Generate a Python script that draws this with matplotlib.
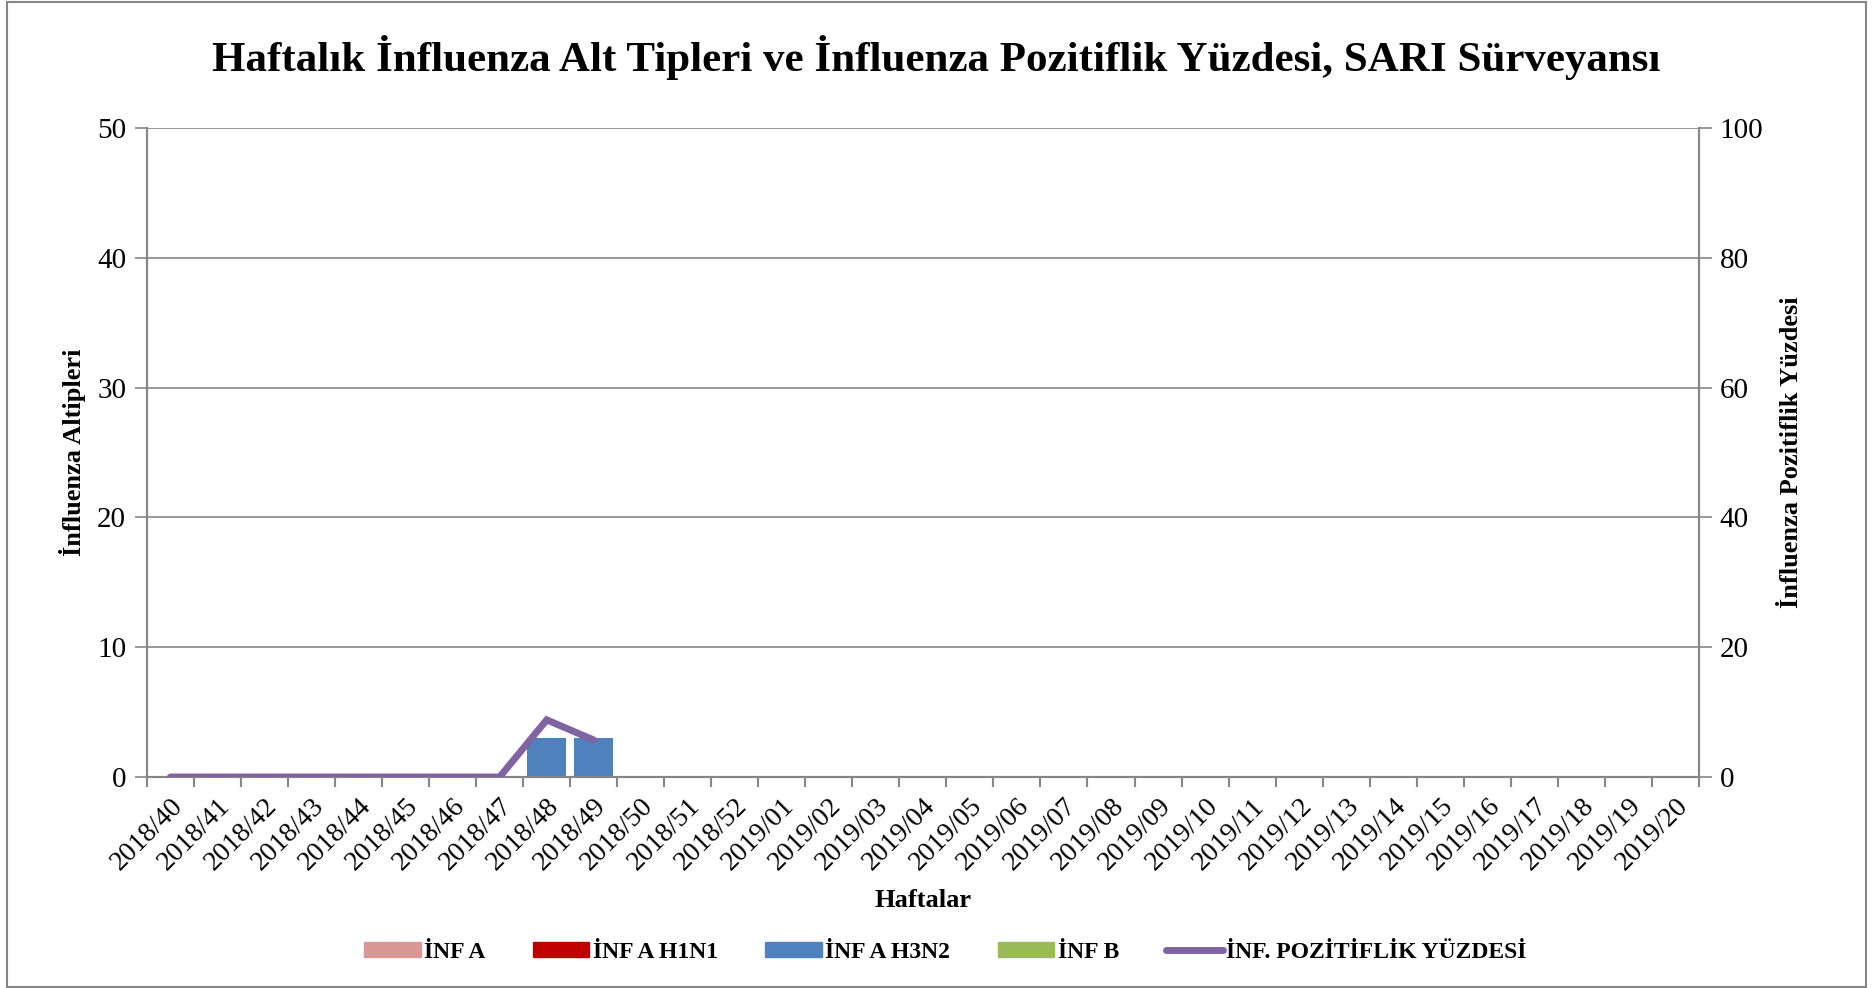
import numpy as np
import matplotlib.pyplot as plt
from matplotlib.lines import Line2D
from matplotlib.patches import Patch

plt.rcParams['font.family'] = ['Liberation Serif', 'DejaVu Serif']

# haftalar
weeks = ["2018/%02d" % w for w in range(40, 53)] + ["2019/%02d" % w for w in range(1, 21)]

# alt tipler (sayi)
inf_a = [0] * 33
inf_a_h1n1 = [0] * 33
inf_a_h3n2 = [0, 0, 0, 0, 0, 0, 0, 0, 3, 3] + [0] * 23
inf_b = [0] * 33

# pozitiflik yuzdesi (sadece 2018/40 - 2018/49)
pozitiflik = [0, 0, 0, 0, 0, 0, 0, 0, 8.8, 5.7]

c_a = "#D99795"
c_h1n1 = "#C00000"
c_h3n2 = "#4F81BD"
c_b = "#9BBB59"
c_line = "#8064A2"
grey = "#868686"

fig = plt.figure(figsize=(18.72, 9.88), dpi=100)
ax = fig.add_axes([0.0785, 0.2136, 0.829, 0.6568])

x = np.arange(len(weeks))
w = 0.82
bottom = np.zeros(len(weeks))
for vals, col in [(inf_a, c_a), (inf_a_h1n1, c_h1n1), (inf_a_h3n2, c_h3n2), (inf_b, c_b)]:
    ax.bar(x, vals, w, bottom=bottom, color=col, zorder=3)
    bottom += np.array(vals)

ax.set_xlim(-0.5, len(weeks) - 0.5)
ax.set_ylim(0, 50)
ax.set_yticks(range(0, 51, 10))
ax.yaxis.grid(True, color=grey, linewidth=1.2, zorder=0)
ax.set_axisbelow(True)

ax2 = ax.twinx()
ax2.plot(x[:len(pozitiflik)], pozitiflik, color=c_line, linewidth=5,
         solid_capstyle="round", solid_joinstyle="miter", zorder=4)
ax2.set_ylim(0, 100)
ax2.set_yticks(range(0, 101, 20))

# x ekseni
ax.set_xticks(x)
ax.set_xticklabels(weeks, rotation=45, ha="right", rotation_mode="anchor", fontsize=20)
ax.set_xticks(np.arange(-0.5, len(weeks), 1), minor=True)
ax.tick_params(axis="x", which="major", length=0, pad=12)
ax.tick_params(axis="x", which="minor", length=7, width=1.5, color=grey)
ax.tick_params(axis="y", length=9, width=1.2, color=grey, labelsize=21, pad=6)
ax2.tick_params(axis="y", length=9, width=1.2, color=grey, labelsize=21, pad=6)

for a in (ax, ax2):
    a.spines["top"].set_visible(False)
    for s in ("left", "right", "bottom"):
        a.spines[s].set_color(grey)
        a.spines[s].set_linewidth(1.5)

ax.set_ylabel("İnfluenza Altipleri", fontsize=19, fontweight="bold", labelpad=8)
ax2.set_ylabel("İnfluenza Pozitiflik Yüzdesi", fontsize=19, fontweight="bold", labelpad=12)
ax.set_xlabel("Haftalar", fontsize=19, fontweight="bold", labelpad=10)

fig.suptitle("Haftalık İnfluenza Alt Tipleri ve İnfluenza Pozitiflik Yüzdesi, SARI Sürveyansı",
             fontsize=31, fontweight="bold", y=0.965)

handles = [Patch(color=c_a), Patch(color=c_h1n1), Patch(color=c_h3n2), Patch(color=c_b),
           Line2D([0], [0], color=c_line, linewidth=5, solid_capstyle="round")]
labels = ["İNF A", "İNF A H1N1", "İNF A H3N2", "İNF B", "İNF. POZİTİFLİK YÜZDESİ"]
fig.legend(handles, labels, loc="center", bbox_to_anchor=(0.505, 0.036), ncol=5,
           frameon=False, prop={"weight": "bold", "size": 17}, handlelength=2.4,
           handleheight=0.6, columnspacing=2.0, handletextpad=0.15)

# dis cerceve
fig.patches.append(plt.Rectangle((0.004, 0.001), 0.993, 0.997, transform=fig.transFigure,
                                 fill=False, edgecolor=grey, linewidth=1.5))

fig.savefig("out.png", dpi=100)
